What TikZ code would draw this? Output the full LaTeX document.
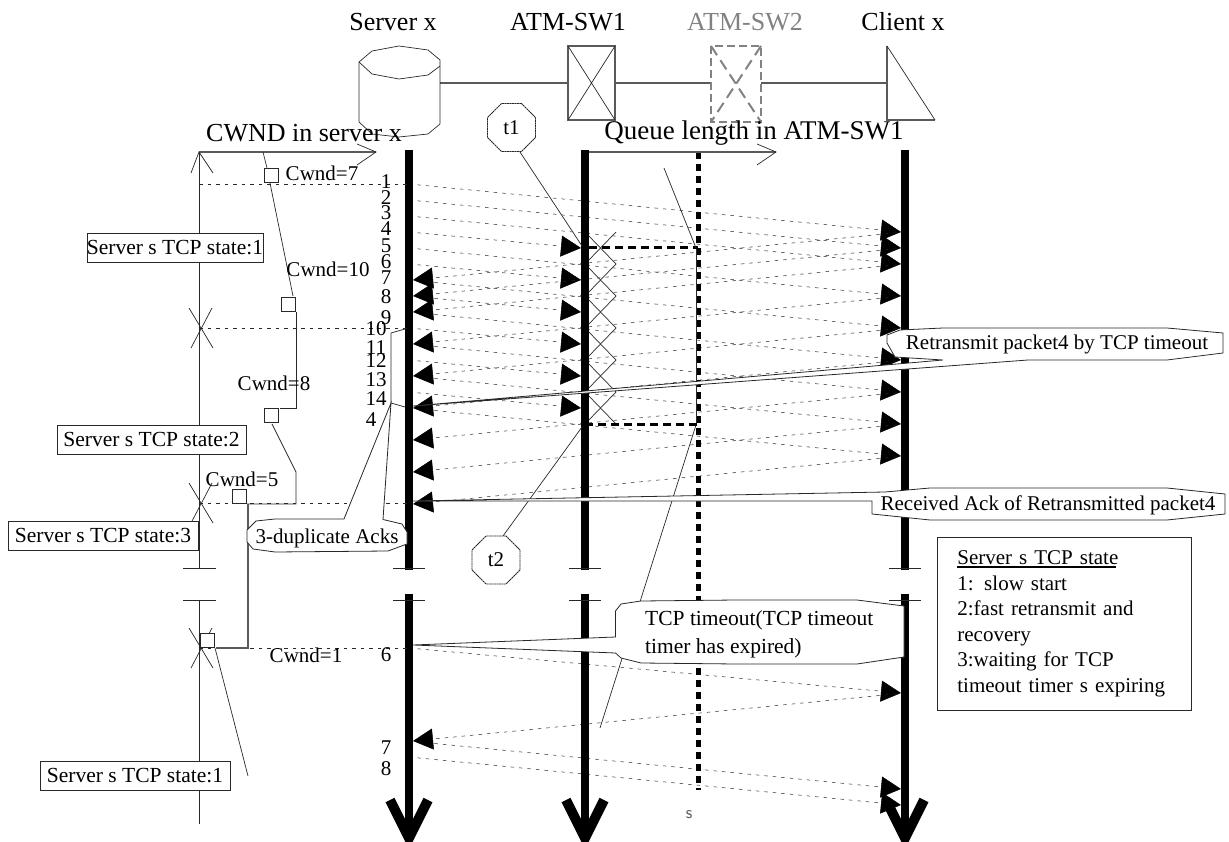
\documentclass[tikz,border=0pt]{standalone}
\usepackage{fontspec}
\setmainfont{Liberation Serif}
\usepackage{xcolor}
\usetikzlibrary{arrows.meta, shapes.geometric}
\definecolor{LineDark}{RGB}{40, 40, 40}
\definecolor{LineMid}{RGB}{90, 90, 90}
\definecolor{SwGray}{RGB}{130, 130, 130}
\tikzset{
  txt/.style={font=\fontsize{21}{25}\selectfont, inner sep=0pt},
  toplbl/.style={font=\fontsize{26}{30}\selectfont, inner sep=0pt},
  statebox/.style={draw=LineDark, fill=white, line width=.8pt, inner sep=0pt, font=\fontsize{21.5}{25}\selectfont},
  cwndbox/.style={draw=LineDark, fill=white, line width=.8pt, minimum size=14pt, inner sep=0pt},
  timer/.style={draw=LineDark, fill=white, regular polygon, regular polygon sides=8, minimum size=52pt, inner sep=0pt, dash pattern=on 2pt off .5pt, line width=.8pt, font=\fontsize{21}{25}\selectfont},
  thin line/.style={LineDark, line width=.7pt},
  axis line/.style={LineMid, line width=1.1pt},
  pkt/.style={LineDark, line width=.5pt, dash pattern=on 3.5pt off 5pt},
  pktarr/.style={pkt, -{Triangle[length=20pt,width=21pt,black]}},
  lifeline/.style={black, line width=8pt},
  qline/.style={black, line width=3pt, dash pattern=on 8pt off 5pt},
  callout/.style={draw=LineDark, fill=white, line width=.8pt}
}
\begin{document}
\begin{tikzpicture}[x=1pt, y=-1pt]
\useasboundingbox (0,0) rectangle (1229,842);

% network row
\coordinate (srvport) at (440,83);
\coordinate (swain) at (568,83);
\coordinate (swaout) at (615,83);
\coordinate (swbin) at (711,83);
\coordinate (swbout) at (761,83);
\coordinate (cliport) at (887,83);
\draw[axis line] (srvport) -- (swain);
\draw[axis line] (swaout) -- (swbin);
\draw[axis line] (swbout) -- (cliport);
\draw[thin line] (359,62) -- (372,51) -- (399,46) -- (428,50) -- (440,60) -- (440,124) -- (428,134) -- (399,137) -- (372,134) -- (359,122) -- cycle;
\draw[thin line] (359,62) -- (372,74) -- (399,79) -- (428,75) -- (440,66);
\draw[axis line] (568,46) rectangle (615,120);
\draw[thin line] (568,46) -- (615,120) (615,46) -- (568,120);
\draw[SwGray, line width=2.5pt, dash pattern=on 8pt off 4pt] (711,46) rectangle (761,122);
\draw[SwGray, line width=2pt, dash pattern=on 11pt off 6pt] (711,46) -- (761,122) (761,46) -- (711,122);
\draw[axis line] (887,46) -- (887,120) -- (935,120);
\draw[thin line] (887,46) -- (935,120);
\node[toplbl] (srvlbl) at (393,22) {Server x};
\node[toplbl] (swalbl) at (568,22) {ATM-SW1};
\node[toplbl, SwGray] (swblbl) at (745,22) {ATM-SW2};
\node[toplbl] (clilbl) at (903,22) {Client x};
\node[toplbl] (cwndlbl) at (304,133) {CWND in server x};
\node[toplbl, font=\fontsize{27}{30}\selectfont] (qlbl) at (754,133) {Queue length in ATM-SW1};

% packets and acks
\foreach \ya/\yb in {184/232,200/248,216/264,248/296,280/328,312/360,344/392,376/424,408/456,648/693,741/789,757/805}{
  \coordinate (from) at (409,\ya);
  \coordinate (to) at (901,\yb);
  \draw[pktarr] (from) -- (to);
}
\foreach \ya/\yb in {232/248,264/280,296/312,328/344,360/376,392/408}{
  \coordinate (from) at (409,\ya);
  \coordinate (to) at (581,\yb);
  \draw[pktarr] (from) -- (to);
}
\foreach \ya/\yb in {232/280,248/296,264/312,296/344,328/376,360/408,392/440,424/472,456/504,693/741}{
  \coordinate (from) at (905,\ya);
  \coordinate (to) at (413,\yb);
  \draw[pktarr] (from) -- (to);
}

% queue length
\draw[thin line] (585,232) -- (616,264) -- (585,296) -- (616,328) -- (585,360) -- (616,392) -- (585,424);
\draw[thin line] (616,232) -- (585,264) -- (616,296) -- (585,328) -- (616,360) -- (585,392) -- (616,424);
\draw[black, line width=5pt, dash pattern=on 7pt off 5pt] (698,152) -- (698,790);
\draw[thin line] (696,248) -- (696,424);
\draw[qline] (589,248) -- (698,248);
\draw[qline] (585,424) -- (698,424);
\draw[thin line] (664,168) -- (696,248);
\draw[thin line] (696,425) -- (600,728);
\draw[axis line] (585,152) -- (776,152);
\draw[thin line] (757,144) -- (776,152) -- (757,165);

% time lines
\foreach \x in {409,585,905}{
  \draw[lifeline] (\x,150) -- (\x,570);
  \draw[lifeline] (\x,594) -- (\x,838);
  \draw[lifeline, line width=10pt] (\x-19,800) -- (\x,838) -- (\x+19,800);
  \draw[thin line] (\x-16,568) -- (\x+16,568);
  \draw[thin line] (\x-16,600) -- (\x+16,600);
}

% CWND axis
\draw[thin line] (199,824) -- (199,600);
\draw[thin line] (183,600) -- (216,600);
\draw[thin line] (183,568) -- (216,568);
\draw[thin line] (199,568) -- (199,152);
\draw[axis line] (199,152) -- (376,152);
\draw[thin line] (191,173) -- (199,152) -- (213,173);
\draw[thin line] (357,144) -- (376,152) -- (357,165);
\foreach \y in {328,503,648}{
  \draw[thin line] (189,\y-20) -- (213,\y+20);
  \draw[thin line] (212,\y-20) -- (191,\y+20);
  \draw[pkt] (199,\y) -- (409,\y);
}
\draw[pkt] (199,184) -- (409,184);

% CWND curve
\draw[thin line] (263,152) -- (267,168);
\draw[thin line] (270,183) -- (293,296);
\draw[thin line] (296,312) -- (296,408) -- (280,408);
\draw[thin line] (272,424) -- (296,472) -- (296,504) -- (247,504);
\draw[axis line] (248,504) -- (248,648) -- (216,648);
\draw[thin line] (215,648) -- (248,776);
\node[cwndbox] (cwa) at (271,175) {};
\node[cwndbox] (cwb) at (288,304) {};
\node[cwndbox] (cwc) at (271,415) {};
\node[cwndbox] (cwd) at (239,496) {};
\node[cwndbox] (cwe) at (207,640) {};
\node[txt] (cwlbla) at (322,173) {Cwnd=7};
\node[txt] (cwlblb) at (328,269) {Cwnd=10};
\node[txt] (cwlblc) at (274,383) {Cwnd=8};
\node[txt] (cwlbld) at (242,479) {Cwnd=5};
\node[txt] (cwlble) at (306,655) {Cwnd=1};

% sequence numbers
\foreach \lab/\px/\py in {1/386/182,2/386/198,3/386/213,4/386/229,5/386/246,6/386/262,7/386/278,8/386/297,9/386/318,10/376/329,11/376/348,12/376/361,13/376/380,14/376/399,4/371/420,6/386/655,7/386/748,8/386/769}{
  \node[txt] (num\py) at (\px,\py) {\lab};
}

% state boxes
\node[statebox, minimum width=174pt, minimum height=29pt] (statea) at (175,247.5) {Server s TCP state:1};
\node[statebox, minimum width=189pt, minimum height=29pt] (stateb) at (151.5,439.5) {Server s TCP state:2};
\node[statebox, minimum width=190pt, minimum height=29pt] (statec) at (103,535.5) {Server s TCP state:3};
\node[statebox, minimum width=190pt, minimum height=29pt] (stated) at (135,775.5) {Server s TCP state:1};

% timers
\draw[thin line] (520,152) -- (582,246);
\draw[thin line] (503,536) -- (582,427);
\node[timer] (tone) at (511.5,127.5) {t1};
\node[timer] (ttwo) at (496,560) {t2};

% callouts
\draw[callout] (413,406) -- (943,360) -- (895,357) -- (887,343) -- (887,335) -- (900,330) -- (943,328) -- (1167,328) -- (1223,333) -- (1223,353) -- (1167,360) -- (1028,360) -- cycle;
\node[txt] (retxlbl) at (1057,344) {Retransmit packet4 by TCP timeout};
\draw[callout] (413,501) -- (872,501) -- (872,514) -- (930,520) -- (1167,520) -- (1225,514) -- (1225,494) -- (1167,488) -- (930,488) -- (885,492) -- cycle;
\node[txt] (acklbl) at (1048,505) {Received Ack of Retransmitted packet4};
\draw[callout] (247,530) -- (256,521) -- (275,519) -- (344,519) -- (391,403) -- (383,519.5) -- (402,524) -- (407,532) -- (407,544) -- (388,551) -- (275,552) -- (253,549) -- (247,542) -- cycle;
\draw[thin line] (391,403) -- (405,407);
\draw[thin line] (391,403) -- (391,333) -- (405,329);
\node[txt] (duplbl) at (327,538) {3-duplicate Acks};
\draw[callout] (413,645) -- (615.5,637) -- (615.5,611) -- (621,604) -- (641,601) -- (736,600) -- (857,600) -- (904,606) -- (904,657) -- (857,664) -- (736,664) -- (641,663) -- (621,658) -- (615.5,653) -- cycle;
\node[txt, font=\fontsize{21.5}{28}\selectfont, align=left, anchor=west] (tolbl) at (645,634) {TCP timeout(TCP timeout\\timer has expired)};

% legend
\node[statebox, anchor=north west, align=left, text width=214pt, minimum height=173pt, inner xsep=20pt, inner ysep=11pt, font=\fontsize{21}{25.6}\selectfont] (legend) at (937,537) {\rlap{\rule[-3pt]{159pt}{1.8pt}}Server s TCP state\\1: slow start\\2:fast retransmit and\\recovery\\3:waiting for TCP\\timeout timer s expiring};

\node[txt, font=\sffamily\fontsize{18}{20}\selectfont, LineMid] (unitlbl) at (689,815) {s};
\end{tikzpicture}
\end{document}
